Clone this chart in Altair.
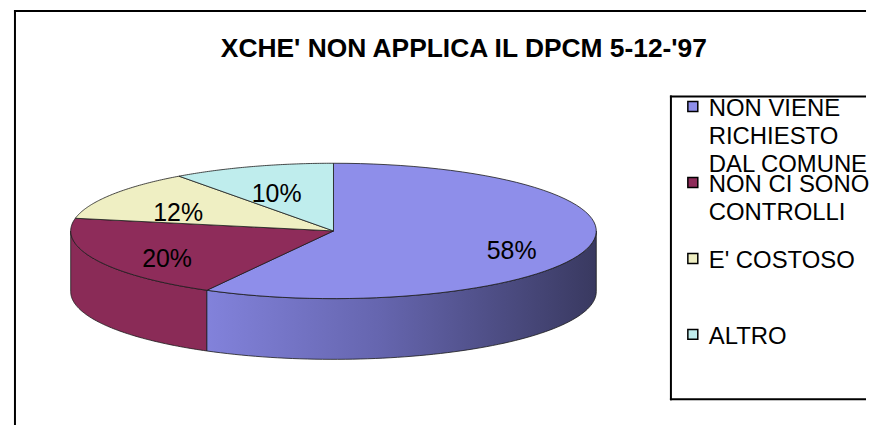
import altair as alt
import pandas as pd

title_text = "XCHE' NON APPLICA IL DPCM 5-12-'97"
labels = ["NON VIENE RICHIESTO DAL COMUNE", "NON CI SONO CONTROLLI", "E' COSTOSO", "ALTRO"]
legend_text = ["NON VIENE\nRICHIESTO\nDAL COMUNE", "NON CI SONO\nCONTROLLI", "E' COSTOSO", "ALTRO"]
values = [58, 20, 12, 10]
colors = ["#8E8EEA", "#8E2C5A", "#EFEFC3", "#BFEDED"]

W, H = 862, 417
CX, CY, A, B, DEPTH = 327, 222, 264, 68, 61
N = 72
FONT = "Liberation Sans"
EDGE = "#1a1a1a"

df = pd.DataFrame({"label": labels, "legend": legend_text, "value": values,
                   "order": list(range(len(values)))})

xs = alt.Scale(domain=[0, W], nice=False, zero=False)
ys = alt.Scale(domain=[0, H], nice=False, zero=False, reverse=True)
cs = alt.Scale(domain=labels, range=colors)

base = (alt.Chart(df)
        .transform_joinaggregate(total="sum(value)")
        .transform_window(cum="sum(value)", sort=[alt.SortField("order", order="ascending")],
                          frame=[None, 0])
        .transform_calculate(start="(datum.cum - datum.value) / datum.total")
        .transform_calculate(end="datum.cum / datum.total"))

# top surface of the slices (elliptical)
top = (base
       .transform_calculate(pts=f"sequence(0, {N + 2})")
       .transform_flatten(["pts"], as_=["idx"])
       .transform_calculate(t=f"clamp((datum.idx - 1) / {N - 1}, 0, 1)")
       .transform_calculate(th="2 * PI * (datum.start + (datum.end - datum.start) * datum.t)")
       .transform_calculate(isc=f"datum.idx == 0 || datum.idx == {N + 1}")
       .transform_calculate(px=f"datum.isc ? {CX} : {CX} + {A} * sin(datum.th)")
       .transform_calculate(py=f"datum.isc ? {CY} : {CY} - {B} * cos(datum.th)")
       .mark_line(filled=True, stroke=EDGE, strokeWidth=0.8, strokeJoin="round")
       .encode(x=alt.X("px:Q", scale=xs, axis=None),
               y=alt.Y("py:Q", scale=ys, axis=None),
               color=alt.Color("label:N", scale=cs, legend=None),
               detail="label:N",
               order=alt.Order("idx:Q")))

# side walls (front half only)
wall = (base
        .transform_calculate(ws="max(2 * PI * datum.start, PI / 2)")
        .transform_calculate(we="min(2 * PI * datum.end, 3 * PI / 2)")
        .transform_filter("datum.ws < datum.we")
        .transform_calculate(pts=f"sequence(0, {N + 1})")
        .transform_flatten(["pts"], as_=["idx"])
        .transform_calculate(th=f"datum.ws + (datum.we - datum.ws) * datum.idx / {N}")
        .transform_calculate(px=f"{CX} + {A} * sin(datum.th)")
        .transform_calculate(py=f"{CY} - {B} * cos(datum.th)")
        .transform_calculate(py2=f"datum.py + {DEPTH}"))

wall_enc = dict(x=alt.X("px:Q", scale=xs, axis=None),
                y=alt.Y("py:Q", scale=ys, axis=None),
                y2=alt.Y2("py2:Q"))

grad = alt.Gradient(gradient="linear",
                    stops=[alt.GradientStop(color="#8282DB", offset=0),
                           alt.GradientStop(color="#6565AE", offset=0.45),
                           alt.GradientStop(color="#393960", offset=1)],
                    x1=0, x2=1, y1=0, y2=0)

wall_purple = (wall.transform_filter("datum.order == 0")
               .mark_area(fill=grad, stroke=EDGE, strokeWidth=0.8)
               .encode(**wall_enc))
wall_maroon = (wall.transform_filter("datum.order == 1")
               .mark_area(fill="#8A2B57", stroke=EDGE, strokeWidth=0.8)
               .encode(**wall_enc))

# percentage labels
pct_labels = (base
              .transform_calculate(mid="PI * (datum.start + datum.end)")
              .transform_calculate(lx=f"{CX} + {A} * 0.7 * sin(datum.mid)")
              .transform_calculate(ly=f"{CY} - {B} * 0.7 * cos(datum.mid) + 8")
              .transform_calculate(pct="datum.value / datum.total")
              .mark_text(font=FONT, fontSize=25, color="black", align="center", baseline="middle")
              .encode(x=alt.X("lx:Q", scale=xs, axis=None),
                      y=alt.Y("ly:Q", scale=ys, axis=None),
                      text=alt.Text("pct:Q", format=".0%")))

# legend
leg = alt.Chart(df).transform_calculate(sy="97 + 76.3 * datum.order").transform_calculate(ty="datum.sy + 10")
leg_sq = (leg.mark_square(size=100, filled=True, opacity=1, stroke="black", strokeWidth=1.5)
          .encode(x=alt.value(688),
                  y=alt.Y("sy:Q", scale=ys, axis=None),
                  color=alt.Color("label:N", scale=cs, legend=None)))
leg_tx = (leg.mark_text(font=FONT, fontSize=24, color="black", align="left", baseline="alphabetic",
                        lineBreak="\n", lineHeight=28)
          .encode(x=alt.value(704),
                  y=alt.Y("ty:Q", scale=ys, axis=None),
                  text="legend:N"))

# title
title = (alt.Chart(alt.Data(values=[{"t": title_text}]))
         .mark_text(font=FONT, fontSize=26.5, fontWeight="bold", color="black",
                    align="center", baseline="alphabetic")
         .encode(x=alt.value(458), y=alt.value(47), text="t:N"))

# frames
one = alt.Data(values=[{"k": 1}])
frame_top = alt.Chart(one).mark_rule(color="black", strokeWidth=2).encode(
    x=alt.value(6), x2=alt.value(W), y=alt.value(1))
frame_left = alt.Chart(one).mark_rule(color="black", strokeWidth=2).encode(
    x=alt.value(7), y=alt.value(0), y2=alt.value(H))
box_top = alt.Chart(one).mark_rule(color="black", strokeWidth=2).encode(
    x=alt.value(665), x2=alt.value(W), y=alt.value(87))
box_bottom = alt.Chart(one).mark_rule(color="black", strokeWidth=2).encode(
    x=alt.value(665), x2=alt.value(W), y=alt.value(391))
box_left = alt.Chart(one).mark_rule(color="black", strokeWidth=2).encode(
    x=alt.value(666), y=alt.value(86), y2=alt.value(392))

chart = (alt.layer(frame_top, frame_left, box_top, box_bottom, box_left,
                   wall_maroon, wall_purple, top, pct_labels, leg_sq, leg_tx, title)
         .properties(width=W, height=H, padding=0, background="white")
         .configure_view(stroke=None))

chart.save("out.html", embed_options={"renderer": "svg", "actions": False})
